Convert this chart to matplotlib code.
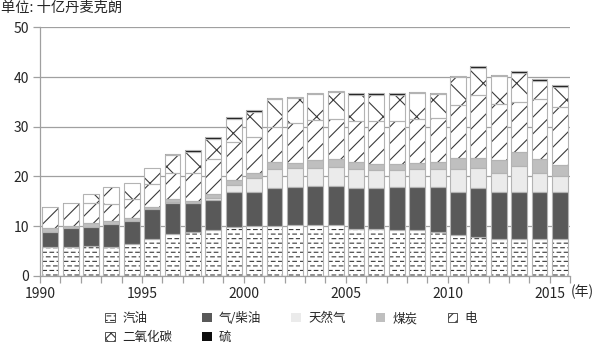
import numpy as np
import matplotlib
matplotlib.use('Agg')
import matplotlib.pyplot as plt
from matplotlib import hatch as mhatch
from matplotlib.patches import Patch
from matplotlib.path import Path

years = list(range(1990, 2016))

# 十亿丹麦克朗, per year
gasoline = [5.8, 5.8, 6.0, 5.8, 6.3, 7.5, 8.5, 8.85, 9.2, 9.9, 10.0, 10.0, 10.2,
            10.2, 10.2, 9.5, 9.5, 9.2, 9.2, 8.85, 8.2, 7.85, 7.5, 7.5, 7.5, 7.5]
diesel = [3.05, 3.9, 3.9, 4.7, 4.8, 5.9, 6.2, 5.75, 6.0, 7.0, 6.9, 7.6, 7.7,
          7.85, 7.85, 8.1, 8.1, 8.6, 8.6, 8.95, 8.7, 9.75, 9.4, 9.4, 9.4, 9.4]
natural_gas = [0, 0, 0, 0, 0, 0, 0.1, 0.1, 0.4, 1.3, 2.7, 3.8, 3.7,
               3.55, 3.85, 3.8, 3.7, 3.5, 3.6, 3.6, 4.5, 4.0, 3.8, 5.2, 3.8, 3.2]
coal = [0.85, 0.4, 0.8, 0.5, 0.6, 0.5, 0.6, 0.4, 0.8, 1.1, 1.0, 1.5, 1.1,
        1.7, 1.7, 1.5, 1.2, 1.2, 1.4, 1.5, 2.4, 2.2, 2.6, 2.85, 2.9, 2.2]
electricity = [4.2, 4.5, 3.9, 3.4, 3.7, 4.6, 5.2, 5.6, 7.2, 7.7, 7.4, 7.0, 8.0,
               8.0, 7.9, 8.3, 8.7, 8.7, 8.7, 8.8, 10.5, 12.6, 11.2, 9.95, 11.9, 11.6]
co2 = [0, 0, 1.8, 3.5, 3.2, 3.2, 3.7, 4.25, 4.0, 4.5, 5.0, 5.6, 5.0,
       5.2, 5.5, 5.2, 5.2, 5.2, 5.2, 4.8, 5.7, 5.5, 5.7, 6.0, 3.7, 4.1]
sulfur = [0, 0, 0, 0, 0, 0, 0.3, 0.35, 0.4, 0.4, 0.3, 0.3, 0.3,
          0.2, 0.3, 0.3, 0.3, 0.3, 0.4, 0.3, 0.3, 0.3, 0.3, 0.3, 0.4, 0.4]

labels = ['汽油', '气/柴油', '天然气', '煤炭', '电', '二氧化碳', '硫']


class DashedRows(mhatch.HatchPatternBase):
    """'-' hatch drawn as staggered short dashes rather than full lines."""

    def __init__(self, hatch, density):
        self.rows = 11 * (hatch.count('-') + hatch.count('+'))
        self.dashes = 14
        self.num_vertices = self.rows * self.dashes * 2

    def set_vertices_and_codes(self, vertices, codes):
        period = 1.0 / self.dashes
        k = 0
        for i in range(self.rows):
            y = (i + 0.5) / self.rows
            shift = period / 2 if i % 2 else 0.0
            for j in range(self.dashes):
                x0 = j * period + shift
                vertices[k] = (x0, y)
                vertices[k + 1] = (x0 + 0.5 * period, y)
                codes[k] = Path.MOVETO
                codes[k + 1] = Path.LINETO
                k += 2


mhatch._hatch_types[mhatch._hatch_types.index(mhatch.HorizontalHatch)] = DashedRows

plt.rcParams['font.family'] = ['Noto Sans CJK SC', 'DejaVu Sans']
plt.rcParams['hatch.linewidth'] = 0.8

text_color = '#262626'
axis_gray = '#a0a0a0'
hatch_color = '#3a3a3a'

# (values, face colour, bar hatch, legend hatch)
styles = [
    (gasoline, 'white', '--', '--'),
    (diesel, '#595959', None, None),
    (natural_gas, '#ebebeb', None, None),
    (coal, '#bfbfbf', None, None),
    (electricity, 'white', '//', '///'),
    (co2, 'white', 'x', 'xxx'),
    (sulfur, '#0d0d0d', None, None),
]

fig = plt.figure(figsize=(5.95, 3.43), dpi=100)
ax = fig.add_axes([0.0672, 0.196, 0.891, 0.724])

x = np.arange(len(years)) + 0.5
width = 0.78
bottom = np.zeros(len(years))
handles = []
for label, (vals, fc, hatch, leg_hatch) in zip(labels, styles):
    vals = np.asarray(vals, dtype=float)
    keep = vals > 0
    ec = hatch_color if hatch else fc
    ax.bar(x[keep], vals[keep], width, bottom=bottom[keep], color=fc,
           edgecolor=ec, hatch=hatch, linewidth=0, zorder=2)
    ax.bar(x[keep], vals[keep], width, bottom=bottom[keep], fill=False,
           edgecolor='#b3b3b3', linewidth=0.8, zorder=3)
    bottom += vals
    handles.append(Patch(facecolor=fc, edgecolor=ec, hatch=leg_hatch,
                         linewidth=0.6 if hatch else 0))

ax.set_xlim(0, len(years))
ax.set_ylim(0, 50)
ax.set_yticks(range(0, 51, 10))
ax.set_xticks(range(len(years) + 1))
ax.set_xticklabels([str(1990 + i) if i % 5 == 0 and i < len(years) else ''
                    for i in range(len(years) + 1)])

ax.grid(axis='y', color=axis_gray, linewidth=0.9, zorder=0)
ax.set_axisbelow(True)
for side in ['top', 'right']:
    ax.spines[side].set_visible(False)
for side in ['left', 'bottom']:
    ax.spines[side].set_color(axis_gray)
    ax.spines[side].set_linewidth(0.9)
ax.tick_params(axis='both', colors=axis_gray, labelcolor=text_color,
               labelsize=10, length=5, width=0.9, direction='out')
ax.tick_params(axis='x', pad=3)
ax.tick_params(axis='y', pad=3)

ax.text(26.05, -0.066, '(年)', transform=ax.get_xaxis_transform(),
        ha='left', va='center', fontsize=10, color=text_color)

fig.text(0.002, 0.998, '单位: 十亿丹麦克朗', ha='left', va='top',
         fontsize=10.3, color=text_color)

# row-major order for a 5-column legend
order = [0, 5, 1, 6, 2, 3, 4]
leg = fig.legend([handles[i] for i in order], [labels[i] for i in order],
                 ncol=5, loc='lower left', bbox_to_anchor=(0.158, -0.035),
                 frameon=False, fontsize=9, handlelength=0.75,
                 handleheight=0.75, handletextpad=0.6, columnspacing=2.4,
                 labelspacing=0.45)
for t in leg.get_texts():
    t.set_color(text_color)

fig.savefig('out.png', dpi=100)
